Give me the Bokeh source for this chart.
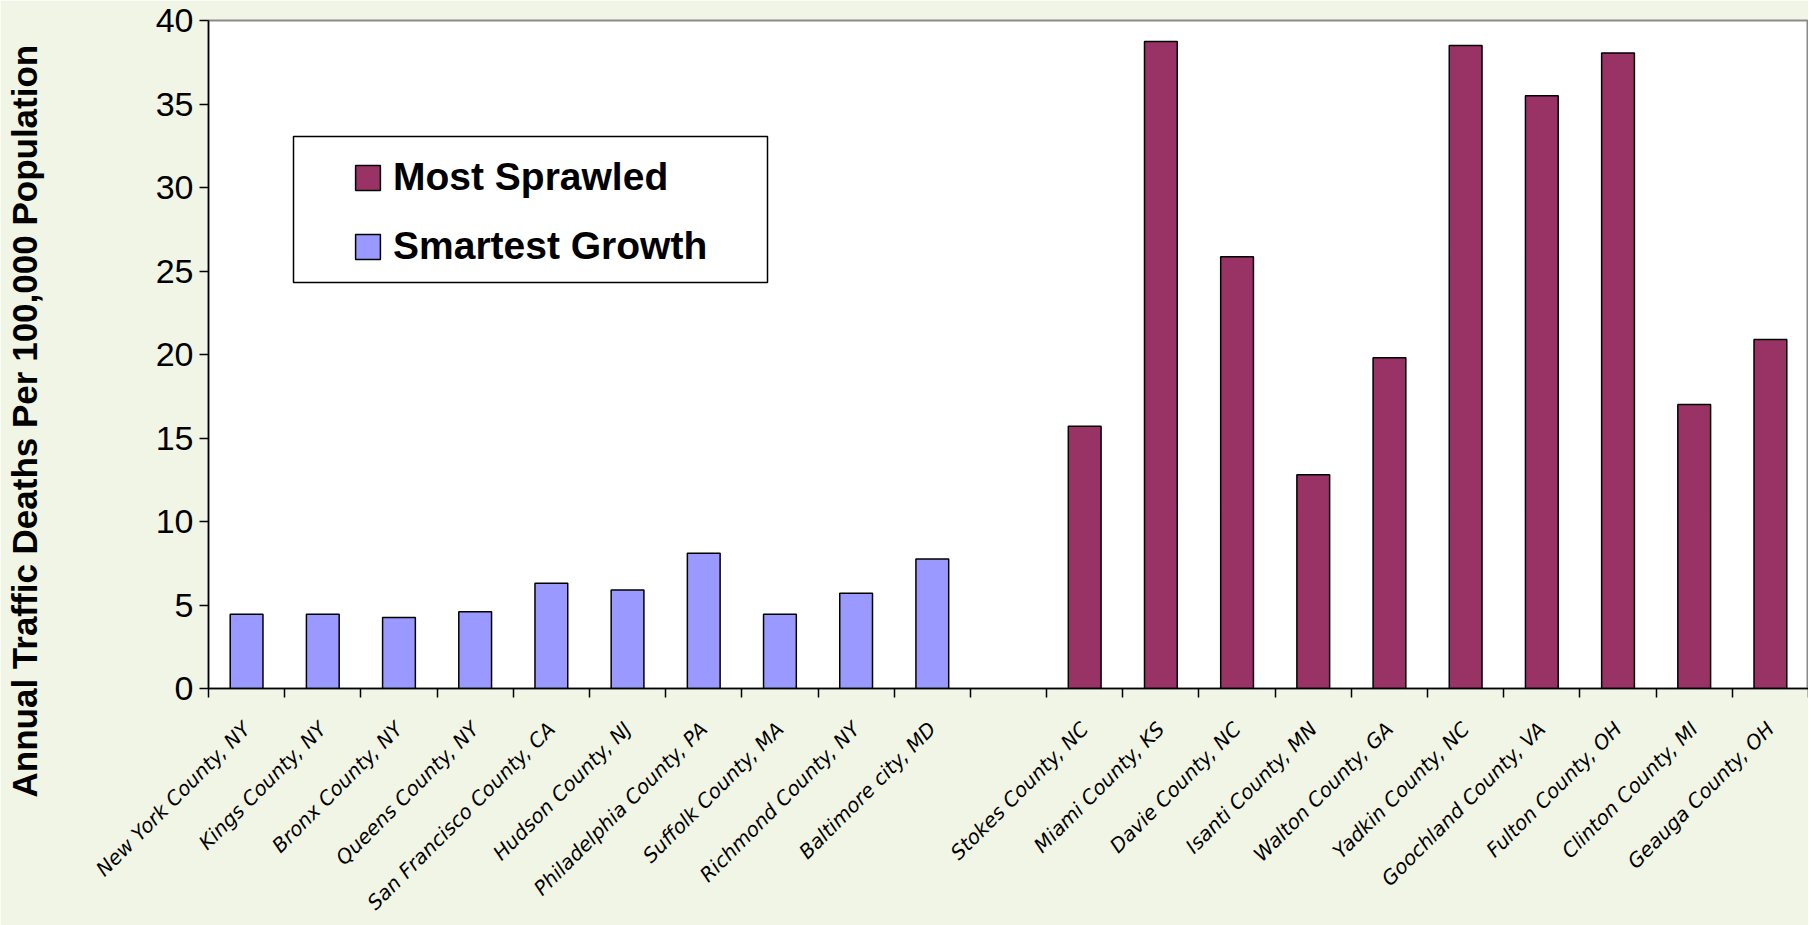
from math import pi
from bokeh.plotting import figure
from bokeh.models import (ColumnDataSource, FactorRange, Range1d, LinearAxis, CategoricalAxis,
                          FixedTicker, Legend, LegendItem, Title, BoxAnnotation)
from bokeh.embed import file_html
from bokeh.resources import INLINE

# ---- data ----
smart_counties = ["New York County, NY", "Kings County, NY", "Bronx County, NY", "Queens County, NY",
                  "San Francisco County, CA", "Hudson County, NJ", "Philadelphia County, PA",
                  "Suffolk County, MA", "Richmond County, NY", "Baltimore city, MD"]
smart_values = [4.45, 4.45, 4.25, 4.6, 6.3, 5.9, 8.1, 4.45, 5.7, 7.75]

sprawl_counties = ["Stokes County, NC", "Miami County, KS", "Davie County, NC", "Isanti County, MN",
                   "Walton County, GA", "Yadkin County, NC", "Goochland County, VA", "Fulton County, OH",
                   "Clinton County, MI", "Geauga County, OH"]
sprawl_values = [15.7, 38.75, 25.85, 12.8, 19.8, 38.5, 35.5, 38.05, 17.0, 20.9]

gap_label = " "
categories = smart_counties + [gap_label] + sprawl_counties
y_ticks = [0, 5, 10, 15, 20, 25, 30, 35, 40]

series_names = ["Most Sprawled", "Smartest Growth"]
y_title = "Annual Traffic Deaths Per 100,000 Population"

SPRAWL_COLOR = "#993366"
SMART_COLOR = "#9999FF"
BG = "#F0F5E6"

n_cat = len(categories)

p = figure(width=1808, height=925, x_range=FactorRange(factors=categories),
           y_range=Range1d(0, 40), output_backend="svg", toolbar_location=None,
           x_axis_location=None, y_axis_location=None,
           min_border_left=208, min_border_right=0, min_border_top=20, min_border_bottom=237)
p.background_fill_color = "white"
p.border_fill_color = BG
p.outline_line_color = "#8a8a8a"
p.outline_line_width = 2
p.xgrid.visible = False
p.ygrid.visible = False

smart_src = ColumnDataSource(dict(x=smart_counties, y=smart_values))
sprawl_src = ColumnDataSource(dict(x=sprawl_counties, y=sprawl_values))

r_smart = p.vbar(x="x", top="y", width=0.43, source=smart_src, fill_color=SMART_COLOR,
                 line_color="black", line_width=1.5)
r_sprawl = p.vbar(x="x", top="y", width=0.43, source=sprawl_src, fill_color=SPRAWL_COLOR,
                  line_color="black", line_width=1.5)

# y axis (blank axis label only reserves room so the title sits at the far left)
yax = LinearAxis(ticker=FixedTicker(ticks=y_ticks))
yax.major_tick_out = 9
yax.major_tick_in = 0
yax.minor_tick_line_color = None
yax.major_tick_line_width = 1.5
yax.axis_line_width = 1.5
yax.axis_line_color = "black"
yax.major_label_text_font = "Liberation Sans"
yax.major_label_text_font_size = "34px"
yax.major_label_text_color = "black"
yax.major_label_standoff = 6
yax.axis_label = " "
yax.axis_label_text_font_size = "10px"
yax.axis_label_standoff = 95
p.add_layout(yax, "left")

# y-axis title
ytitle = Title(text=y_title, align="left", offset=-109, standoff=0,
               text_font="Liberation Sans", text_font_style="bold", text_font_size="35px",
               text_color="black")
p.add_layout(ytitle, "left")

# x axis: tick marks between categories
tick_ax = LinearAxis(ticker=FixedTicker(ticks=list(range(n_cat + 1))))
tick_ax.major_tick_out = 9
tick_ax.major_tick_in = 0
tick_ax.major_tick_line_width = 1.5
tick_ax.minor_tick_line_color = None
tick_ax.axis_line_width = 1.5
tick_ax.axis_line_color = "black"
tick_ax.major_label_text_font_size = "0px"
tick_ax.major_label_text_alpha = 0
tick_ax.major_label_standoff = 0
p.add_layout(tick_ax, "below")

# x axis: category labels
cat_ax = CategoricalAxis()
cat_ax.axis_line_color = None
cat_ax.major_tick_line_color = None
cat_ax.major_label_orientation = pi / 4
cat_ax.major_label_text_font = "DejaVu Sans"
cat_ax.major_label_text_font_style = "italic"
cat_ax.major_label_text_font_size = "20px"
cat_ax.major_label_text_color = "black"
cat_ax.major_label_standoff = 22
p.add_layout(cat_ax, "below")

# legend frame
box = BoxAnnotation(left=85, right=559, top=552, bottom=406,
                    left_units="screen", right_units="screen", top_units="screen", bottom_units="screen",
                    fill_color="white", fill_alpha=1.0, line_color="black", line_alpha=1.0, line_width=1.5)
p.add_layout(box)

legend = Legend(items=[LegendItem(label=series_names[0], renderers=[r_sprawl]),
                       LegendItem(label=series_names[1], renderers=[r_smart])],
                location=(144, 420), padding=0, spacing=25, glyph_width=31, glyph_height=31,
                label_standoff=10, border_line_alpha=0, background_fill_alpha=0)
legend.label_text_font = "Liberation Sans"
legend.label_text_font_style = "bold"
legend.label_text_font_size = "39px"
legend.label_text_color = "black"
p.add_layout(legend)

open("out.html", "w").write(file_html(p, INLINE))
